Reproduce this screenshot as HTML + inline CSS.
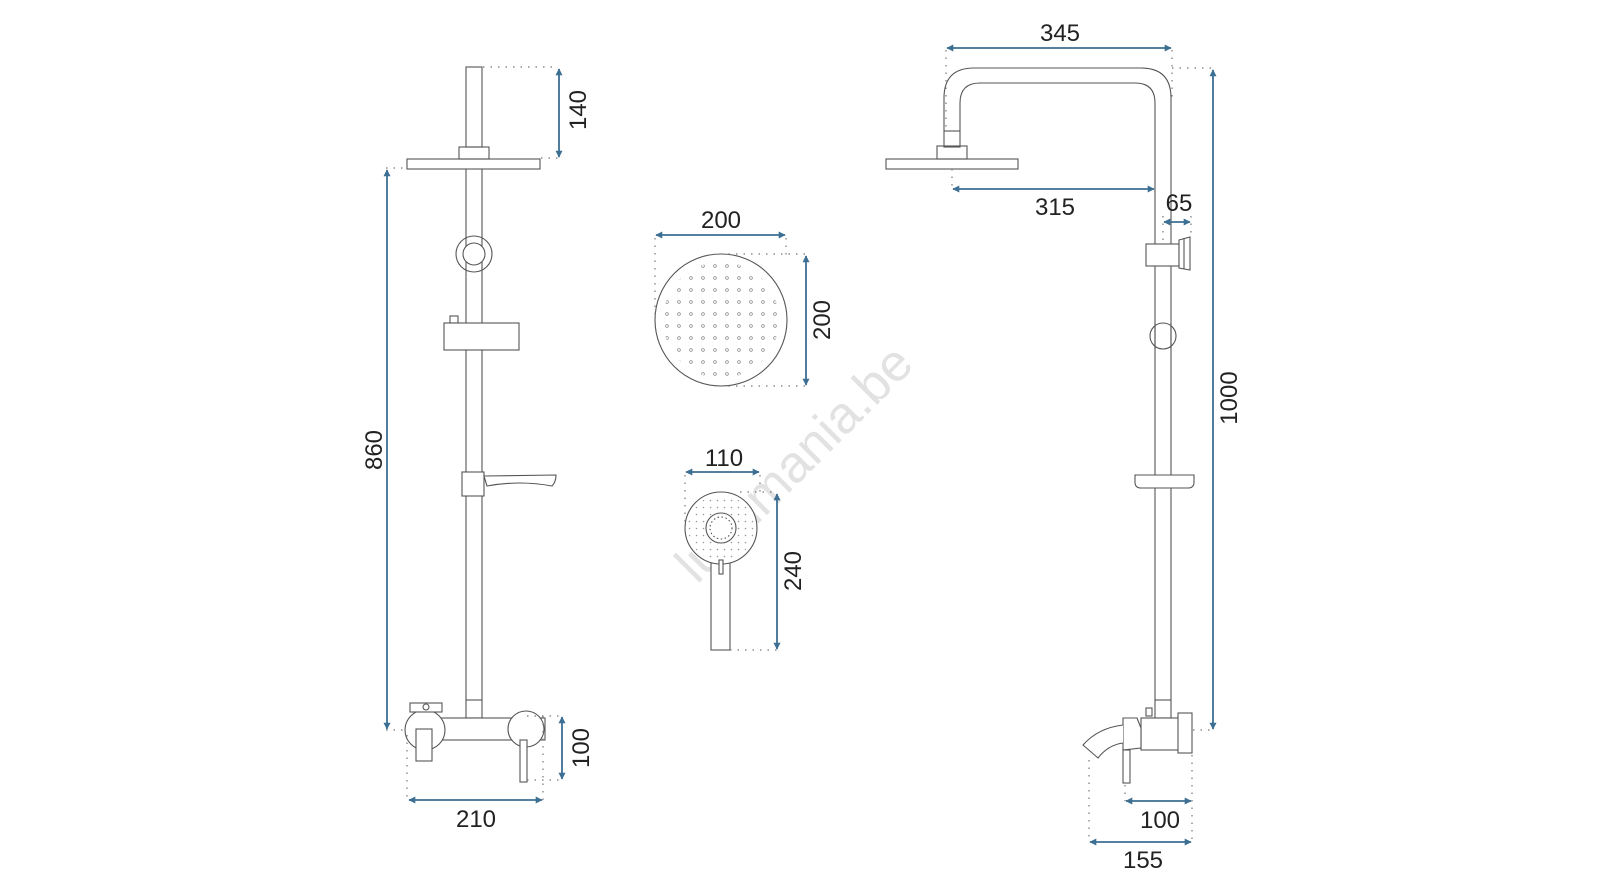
<!DOCTYPE html>
<html><head><meta charset="utf-8"><style>
html,body{margin:0;padding:0;background:#fff;}
svg{display:block;}
text{font-family:"Liberation Sans",Arial,sans-serif;fill:#222;}
</style></head><body>
<svg width="1600" height="890" viewBox="0 0 1600 890" xmlns="http://www.w3.org/2000/svg">
<defs>
<marker id="a" viewBox="0 0 10 10" refX="9" refY="5" markerWidth="9" markerHeight="7" orient="auto-start-reverse" markerUnits="userSpaceOnUse"><path d="M0,0 L10,5 L0,10 Z" fill="#3d6f93"/></marker>
<pattern id="dots" x="649" y="248" width="12" height="12" patternUnits="userSpaceOnUse"><circle cx="6" cy="6" r="1.4" fill="none" stroke="#888" stroke-width="0.7"/></pattern>
<pattern id="hd" x="0" y="0" width="7" height="7" patternUnits="userSpaceOnUse"><circle cx="3.5" cy="3.5" r="0.8" fill="#999"/></pattern>
<clipPath id="cc"><circle cx="721" cy="320" r="58"/></clipPath>
</defs>

<!-- watermark -->
<text x="0" y="0" font-size="52" transform="translate(697,585) rotate(-45)" style="fill:#e2e2e2">lumimania.be</text>

<g fill="none" stroke="#555" stroke-width="1.1">
<!-- LEFT -->
<rect x="466" y="67" width="16" height="80"/>
<rect x="459" y="147" width="30" height="12"/>
<rect x="407" y="159" width="133" height="10"/>
<line x1="466" y1="169" x2="466" y2="700"/><line x1="482" y1="169" x2="482" y2="700"/>
<circle cx="474" cy="254" r="18"/><circle cx="474" cy="254" r="11" fill="#fff"/>
<rect x="450" y="316" width="8" height="7"/>
<rect x="444" y="323" width="75" height="27" fill="#fff"/>
<rect x="462" y="472" width="22" height="24" fill="#fff"/>
<path d="M484,476 L556,475 Q556,482 552,486 Q520,480 487,486 Z" fill="#fff"/>
<rect x="466" y="700" width="16" height="18" fill="#fff"/>
<rect x="410" y="718" width="135" height="22" fill="#fff"/>
<circle cx="425" cy="730" r="20" fill="#fff"/>
<circle cx="526" cy="729" r="18" fill="#fff"/>
<rect x="410" y="703" width="32" height="9" fill="#fff"/>
<circle cx="426" cy="707" r="3"/>
<rect x="416" y="729" width="16" height="32" fill="#fff"/>
<rect x="520" y="740" width="7" height="42" fill="#fff"/>

<!-- CENTER round head -->
<circle cx="721" cy="320" r="66"/>
<rect x="650" y="250" width="142" height="142" fill="url(#dots)" clip-path="url(#cc)" stroke="none"/>

<!-- hand shower -->
<rect x="711" y="563" width="19" height="87" fill="#fff"/>
<circle cx="721" cy="528" r="36" fill="#fff"/>
<circle cx="721" cy="528" r="33" fill="url(#hd)" stroke="none"/>
<circle cx="721" cy="528" r="15" fill="#fff"/>
<circle cx="721" cy="528" r="11" stroke-dasharray="1.5 2.5"/>
<rect x="719" y="560" width="4" height="14" fill="#fff"/>

<!-- RIGHT -->
<path d="M944,131 L944,98 Q944,68 974,68 L1141,68 Q1171,68 1171,98 L1171,700"/>
<path d="M960,131 L960,103 Q960,83 980,83 L1135,83 Q1155,83 1155,103 L1155,700"/>
<rect x="944" y="131" width="16" height="16"/>
<rect x="937" y="146" width="30" height="13"/>
<rect x="886" y="159" width="132" height="10"/>
<rect x="1146" y="244" width="33" height="22" fill="#fff"/>
<path d="M1179,240 L1190,237 L1190,270 L1179,268 Z" fill="#fff"/><line x1="1184" y1="238" x2="1184" y2="269"/>
<circle cx="1163" cy="336" r="13"/>
<line x1="1155" y1="323" x2="1155" y2="349"/><line x1="1171" y1="323" x2="1171" y2="349"/>
<path d="M1135,475 L1194,475 L1194,482 Q1194,488 1188,488 L1141,488 Q1135,488 1135,482 Z" fill="#fff"/>
<rect x="1155" y="700" width="16" height="18" fill="#fff"/>
<rect x="1146" y="708" width="6" height="8" fill="#fff"/>
<rect x="1141" y="718" width="38" height="32" fill="#fff"/>
<rect x="1178" y="713" width="14" height="40" fill="#fff"/>
<path d="M1123,718 L1137,718 L1141,728 L1141,748 L1123,750 Z" fill="#fff"/>
<path d="M1123,725 Q1098,728 1083,745 L1098,758 Q1108,745 1123,743" fill="#fff"/>
<rect x="1123" y="750" width="7" height="33" fill="#fff"/>
</g>

<!-- dotted extension lines -->
<g fill="none" stroke="#777" stroke-width="1.2" stroke-dasharray="1.5 6">
<line x1="483" y1="67" x2="558" y2="67"/><line x1="541" y1="158" x2="558" y2="158"/>
<line x1="386" y1="168" x2="406" y2="168"/>
<line x1="386" y1="730" x2="406" y2="730"/>
<line x1="527" y1="716" x2="562" y2="716"/><line x1="527" y1="780" x2="562" y2="780"/>
<line x1="407" y1="735" x2="407" y2="800"/><line x1="543" y1="716" x2="543" y2="800"/>
<line x1="655" y1="238" x2="655" y2="320"/><line x1="786" y1="238" x2="786" y2="258"/>
<line x1="721" y1="254" x2="806" y2="254"/><line x1="721" y1="386" x2="806" y2="386"/>
<line x1="685" y1="475" x2="685" y2="528"/><line x1="760" y1="475" x2="760" y2="492"/>
<line x1="740" y1="492" x2="777" y2="492"/><line x1="730" y1="650" x2="777" y2="650"/>
<line x1="946" y1="50" x2="946" y2="131"/><line x1="1172" y1="50" x2="1172" y2="98"/>
<line x1="1172" y1="68" x2="1212" y2="68"/>
<line x1="952" y1="169" x2="952" y2="189"/>
<line x1="1163" y1="216" x2="1163" y2="242"/><line x1="1191" y1="216" x2="1191" y2="237"/>
<line x1="1193" y1="730" x2="1212" y2="730"/>
<line x1="1125" y1="785" x2="1125" y2="801"/><line x1="1192" y1="755" x2="1192" y2="841"/>
<line x1="1089" y1="760" x2="1089" y2="841"/>
</g>

<!-- dimension lines -->
<g stroke="#3d6f93" stroke-width="1.8" fill="none" marker-start="url(#a)" marker-end="url(#a)">
<line x1="559" y1="69" x2="559" y2="157"/>
<line x1="387" y1="170" x2="387" y2="729"/>
<line x1="562" y1="717" x2="562" y2="779"/>
<line x1="409" y1="800" x2="542" y2="800"/>
<line x1="656" y1="235" x2="785" y2="235"/>
<line x1="806" y1="256" x2="806" y2="385"/>
<line x1="686" y1="472" x2="759" y2="472"/>
<line x1="777" y1="494" x2="777" y2="649"/>
<line x1="947" y1="48" x2="1171" y2="48"/>
<line x1="953" y1="189" x2="1154" y2="189"/>
<line x1="1164" y1="222" x2="1190" y2="222"/>
<line x1="1213" y1="70" x2="1213" y2="729"/>
<line x1="1126" y1="801" x2="1191" y2="801"/>
<line x1="1090" y1="842" x2="1191" y2="842"/>
</g>

<g font-size="24" text-anchor="middle">
<text transform="translate(586,110) rotate(-90)">140</text>
<text transform="translate(382,450) rotate(-90)">860</text>
<text transform="translate(589,748) rotate(-90)">100</text>
<text x="476" y="827">210</text>
<text x="721" y="228">200</text>
<text transform="translate(830,320) rotate(-90)">200</text>
<text x="724" y="466">110</text>
<text transform="translate(801,571) rotate(-90)">240</text>
<text x="1060" y="41">345</text>
<text x="1055" y="215">315</text>
<text x="1179" y="211">65</text>
<text transform="translate(1237,398) rotate(-90)">1000</text>
<text x="1160" y="828">100</text>
<text x="1143" y="868">155</text>
</g>
</svg>
</body></html>
